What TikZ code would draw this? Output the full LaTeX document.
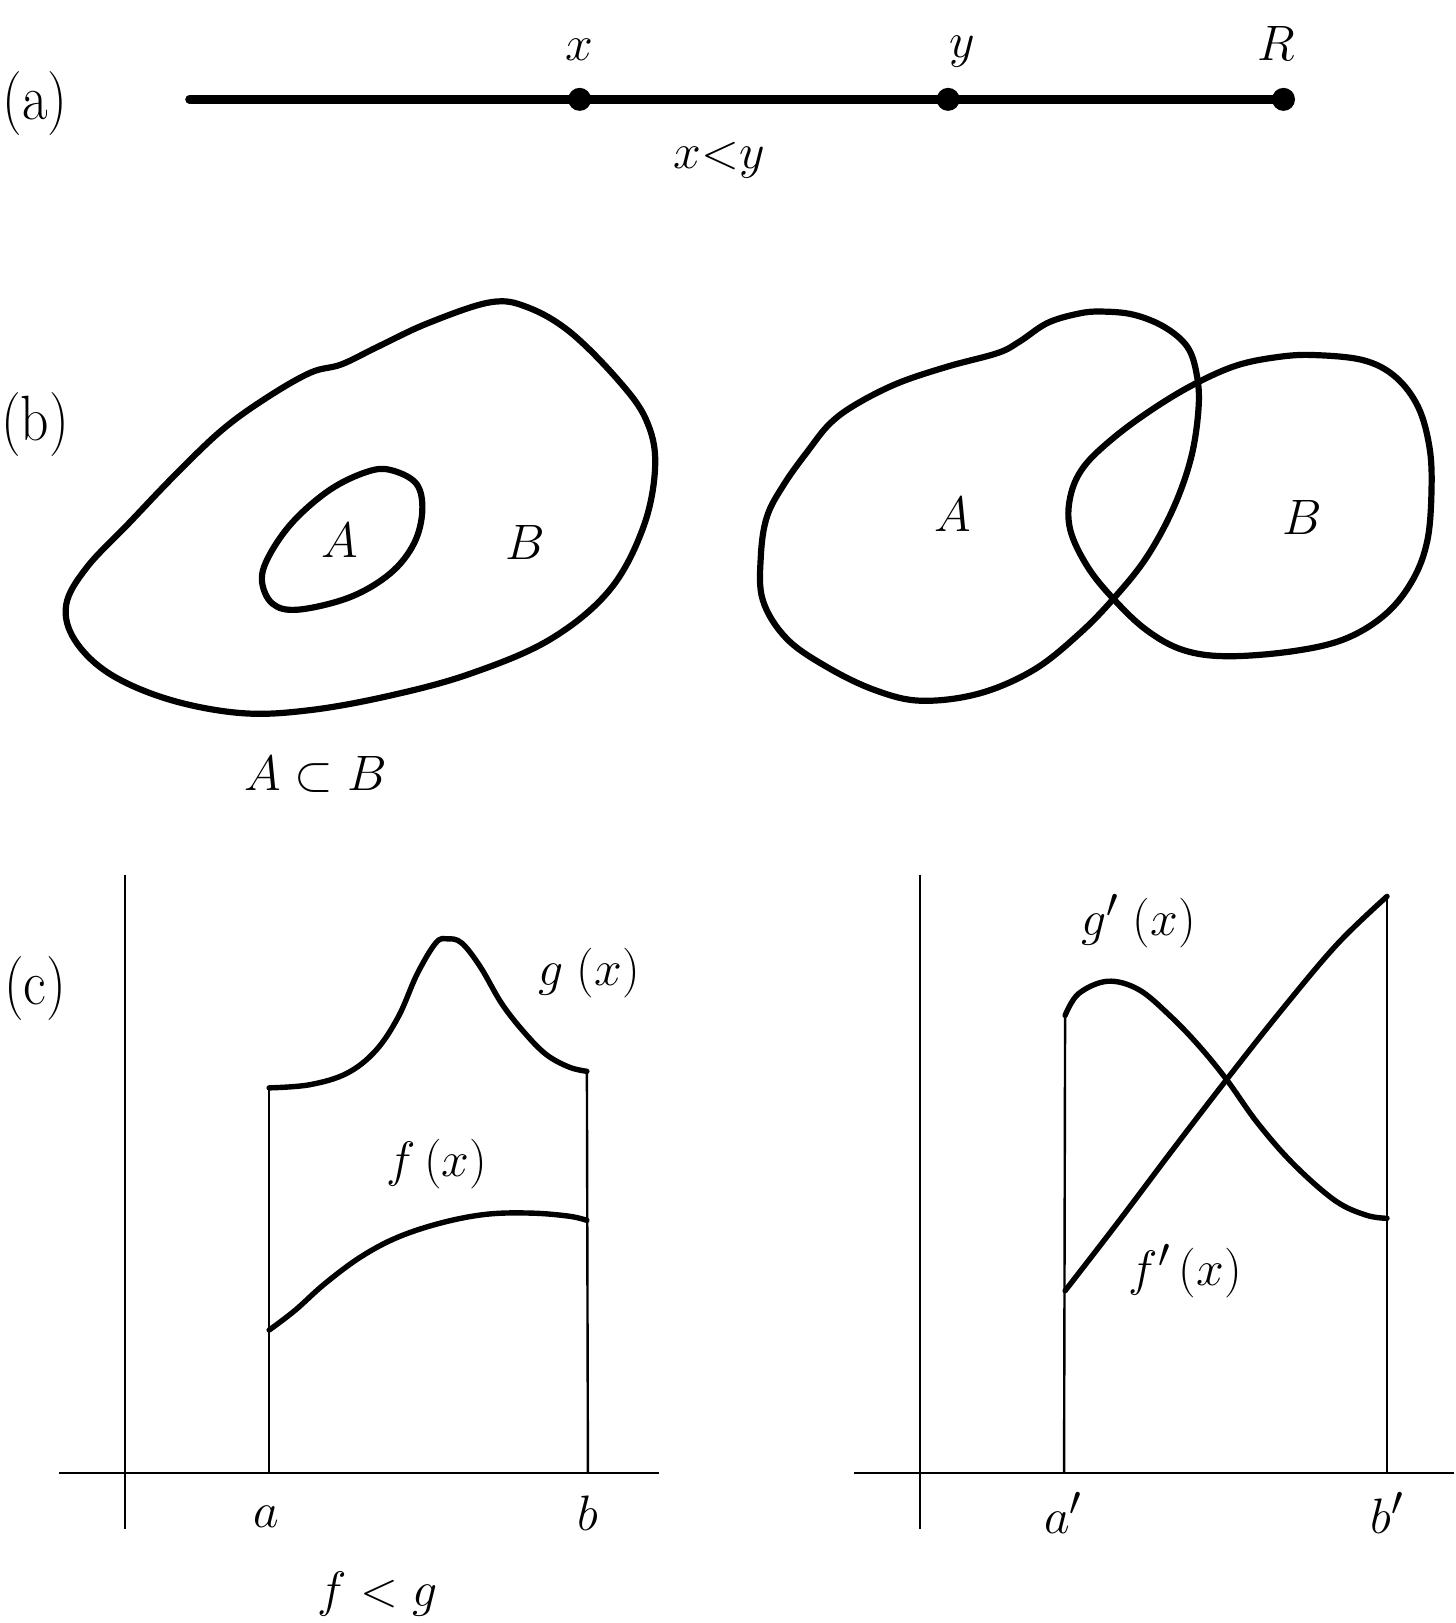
\documentclass[tikz,border=0pt]{standalone}
\usetikzlibrary{shapes.geometric}

\begin{document}
\begin{tikzpicture}[x=0.5174pt,y=0.5174pt,yscale=-1,xscale=1,
    mlabel/.style={inner sep=0pt,font=\fontsize{30}{36}\selectfont},
    tag/.style={inner sep=0pt,font=\fontsize{32}{38}\selectfont},
    boldline/.style={line width=3.1pt,line join=round,line cap=round},
    curveline/.style={line width=2.7pt,line cap=round},
    thinline/.style={line width=1.2pt},
    dot/.style={circle,fill,inner sep=0pt,minimum size=11.5pt}]
\useasboundingbox (0,0) rectangle (1406,1568);

% (a)
\node[tag] (taga) at (34,100) {\scalebox{0.87}[1]{(a)}};
\coordinate (lstart) at (183,96);
\node[dot] (px) at (560,96) {};
\node[dot] (py) at (916,96) {};
\node[dot] (pR) at (1240,96) {};
\draw [line width=4.2pt,line cap=round] (lstart) -- (pR.center);
\node[mlabel] (lx) at (560,48) {$x$};
\node[mlabel] (ly) at (930,50) {$y$};
\node[mlabel] (lR) at (1233,42) {$R$};
\node[mlabel] (lxy) at (695,155) {$x{<}y$};

% (b)
\node[tag] (tagb) at (34,410) {\scalebox{0.87}[1]{(b)}};
\draw [boldline] plot[smooth cycle,tension=0.6] coordinates {(474,292) (510,297) (551,321) (597,367) (624,405) (633,448) (622,508) (589,570) (531,618) (454,651) (377,672) (300,686) (234,689) (164,676) (106,651) (72,618) (64,584) (84,548) (125,505) (170,458) (215,415) (258,384) (300,360) (330,352) (365,335) (414,312)};
\draw [boldline] plot[smooth cycle,tension=0.6] coordinates {(377,454) (402,467) (408,493) (400,525) (377,554) (338,577) (288,589) (263,583) (253,560) (261,535) (284,503) (319,473) (354,456)};
\node[mlabel] (lA1) at (328,522) {$A$};
\node[mlabel] (lB1) at (507,524) {$B$};
\node[mlabel] (lsub) at (305,748) {$A\subset B$};

\draw [boldline] plot[smooth cycle,tension=0.6] coordinates {(1064,301) (1095,304) (1125,316) (1147,335) (1156,361) (1158,393) (1151,441) (1134,490) (1108,538) (1077,577) (1043,612) (999,647) (946,670) (890,677) (846,667) (800,645) (760,617) (737,580) (735,538) (741,499) (758,467) (781,435) (802,409) (828,390) (868,370) (916,354) (964,341) (985,330) (1012,312) (1042,303)};
\draw [boldline] plot[smooth cycle,tension=0.6] coordinates {(1269,343) (1317,348) (1348,364) (1370,393) (1381,432) (1383,473) (1379,522) (1365,560) (1339,593) (1300,617) (1250,629) (1186,634) (1143,628) (1108,609) (1077,580) (1051,548) (1034,512) (1034,480) (1047,451) (1077,422) (1117,393) (1156,370) (1195,353) (1234,345)};
\node[mlabel] (lA2) at (920,497) {$A$};
\node[mlabel] (lB2) at (1258,500) {$B$};

% (c)
\node[tag] (tagc) at (34,955) {\scalebox{0.87}[1]{(c)}};
\draw [thinline] (121,845) -- (121,1477);
\draw [thinline] (57,1423) -- (637,1423);
\draw [thinline] (889,845) -- (889,1477);
\draw [thinline] (825,1423) -- (1405,1423);

\coordinate (ga) at (260,1051);
\coordinate (gb) at (567,1035);
\draw [thinline] (260,1423) -- (ga);
\draw [thinline] (568,1423) -- (gb);
\draw [curveline] plot[smooth,tension=0.6] coordinates {(ga) (299,1048) (335,1037) (363,1015) (385,982) (403,941) (421,911) (432,907) (446,911) (464,934) (485,970) (507,998) (528,1019) (550,1031) (gb)};
\draw [curveline] plot[smooth,tension=0.6] coordinates {(260,1285) (285,1266) (314,1240) (349,1214) (385,1195) (428,1181) (471,1173) (514,1172) (550,1175) (567,1179)};
\node[mlabel] (lg) at (569,940) {$g\;(x)$};
\node[mlabel] (lf) at (422,1125) {$f\,(x)$};
\node[mlabel] (la) at (257,1465) {$a$};
\node[mlabel] (lb) at (568,1462) {$b$};
\node[mlabel] (lfg) at (365,1540) {$f<g$};

\coordinate (gpa) at (1029,981);
\coordinate (fpb) at (1340,866);
\draw [thinline] (1028,1423) -- (gpa);
\draw [thinline] (1340,1423) -- (fpb);
\draw [curveline] plot[smooth,tension=0.6] coordinates {(gpa) (1042,960) (1070,948) (1100,956) (1130,981) (1158,1010) (1185,1043) (1215,1085) (1250,1125) (1290,1160) (1320,1174) (1340,1177)};
\draw [curveline] plot[smooth,tension=0.6] coordinates {(1029,1247) (1080,1181) (1132,1112) (1185,1043) (1238,976) (1292,912) (fpb)};
\node[mlabel] (lgp) at (1100,890) {$g'\;(x)$};
\node[mlabel] (lfp) at (1145,1228) {$f'\,(x)$};
\node[mlabel] (lap) at (1027,1462) {$a'$};
\node[mlabel] (lbp) at (1340,1462) {$b'$};
\end{tikzpicture}
\end{document}
